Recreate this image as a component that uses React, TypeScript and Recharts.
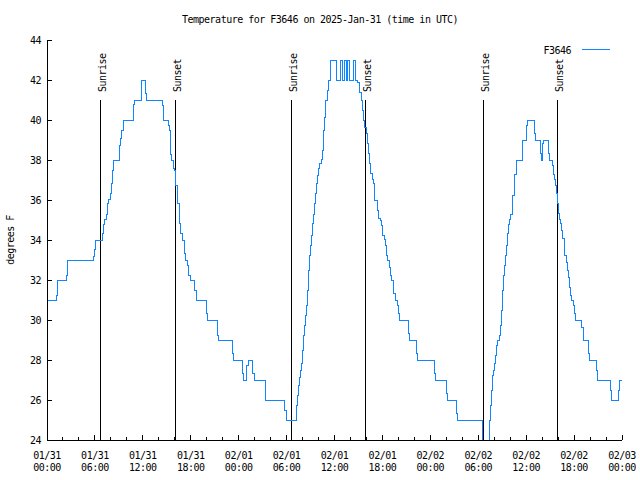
import React from "react";
import { LineChart, Line, XAxis, YAxis, ReferenceLine, Legend } from "recharts";

const FONT = "'DejaVu Sans Mono', 'Liberation Mono', monospace";
const TXT = { fontFamily: FONT, fontSize: 10, letterSpacing: -0.5, fill: "#000" };
const LINE_COLOR = "#0f86ff";

// hours since 01/31 00:00 UTC, and temperature (degrees F) from that moment on
const HOURS = [
  0, 1.16, 1.34, 2.42, 2.54, 5.85, 5.92, 6.1, 6.92, 7.05, 7.18, 7.43, 7.55, 7.68, 7.89, 8.05, 8.18, 8.3,
  9.05, 9.18, 9.35, 9.52, 10.81, 10.98, 11.86, 12.31, 12.43, 14.4, 14.53, 14.65, 15.19, 15.31, 15.44, 15.49,
  15.65, 15.82, 15.94, 16.15, 16.32, 16.53, 16.74, 16.99, 17.19, 17.37, 17.57, 17.74, 17.91, 18.44, 18.7,
  20.0, 20.12, 21.41, 21.5, 23.29, 23.38, 24.46, 24.58, 25.04, 25.21, 25.76, 25.92, 27.34, 27.42, 29.8, 29.93,
  31.18, 31.27, 31.39, 31.52, 31.64, 31.77, 31.89, 32.02, 32.14, 32.22, 32.34, 32.47, 32.6, 32.72, 32.85,
  32.97, 33.1, 33.22, 33.35, 33.47, 33.6, 33.77, 33.9, 34.02, 34.15, 34.31, 34.47, 34.6, 34.72, 34.85, 35.15,
  35.31, 35.44, 36.19, 36.69, 36.94, 37.19, 37.44, 37.69, 37.94, 38.32, 38.57, 38.94, 39.07, 39.19, 39.36,
  39.48, 39.61, 39.78, 39.95, 40.13, 40.28, 40.41, 40.53, 40.73, 40.91, 41.04, 41.41, 41.57, 41.79, 41.91,
  42.04, 42.2, 42.36, 42.49, 42.66, 42.83, 42.95, 43.11, 43.33, 43.45, 43.61, 43.86, 43.99, 44.12, 45.24,
  45.37, 46.29, 46.37, 48.5, 48.62, 50.0, 50.13, 51.25, 51.38, 54.47, 55.39, 55.51, 55.69, 55.81, 55.94,
  56.06, 56.19, 56.31, 56.44, 56.64, 56.76, 56.89, 57.01, 57.14, 57.26, 57.39, 57.51, 57.64, 57.76, 57.89,
  58.1, 58.23, 58.35, 58.48, 58.6, 58.73, 58.85, 59.48, 59.57, 59.98, 60.14, 61.02, 61.14, 61.77, 61.9,
  62.02, 62.15, 62.77, 62.9, 63.27, 63.4, 63.53, 63.65, 63.78, 63.9, 64.08, 64.2, 64.33, 64.45, 64.58,
  64.74, 64.86, 64.99, 65.15, 65.28, 65.4, 65.53, 65.65, 65.9, 66.03, 66.15, 66.99, 67.16, 67.83, 67.96,
  68.79, 68.91, 70.54, 70.66, 71.54, 71.72, 72,
];
const TEMPS = [
  31, 31.25, 32, 32.25, 33, 33.2, 33.55, 34, 34.35, 34.8, 35.05, 35.3, 35.85, 36.05, 36.35, 36.85, 37.5, 38,
  38.75, 39.1, 39.5, 40, 40.8, 41, 42, 41.35, 41, 40.75, 40.55, 40, 39.75, 39.5, 38.75, 38.3,
  38, 37.6, 37.5, 36.75, 35.85, 34.85, 34.35, 34, 33.35, 33, 32.75, 32.25, 32, 31.5, 31,
  30.35, 30, 29.25, 29, 28.35, 28, 27.35, 27, 27.75, 28, 27.35, 27, 26.35, 26, 25.5, 25,
  25.25, 25.75, 26.25, 26.75, 27.15, 27.5, 27.85, 28.5, 29.25, 29.75, 30.25, 30.75, 31.5, 32.5, 33.25,
  33.75, 34.25, 34.85, 35.3, 35.85, 36.35, 36.85, 37.25, 37.6, 37.85, 38.05, 38.5, 39.5, 40.15, 41, 41.5,
  42, 43, 42, 43, 42, 43, 42, 43, 42, 43, 42, 41.9, 41.65, 41.4, 41,
  40.5, 40, 39.65, 39.35, 38.85, 38.35, 37.85, 37.35, 37.05, 36.85, 36, 35.5, 35.1, 35, 34.75,
  34.25, 34.05, 33.75, 33.25, 33, 32.65, 32.25, 32, 31.85, 31.35, 31, 30.75, 30.35, 30, 29.35,
  29, 28.35, 28, 27.35, 27, 26.35, 26, 25.35, 25, 24, 25, 25.75, 26.5, 27.25, 27.5,
  27.85, 28.25, 28.75, 29, 29.25, 29.75, 30.5, 31.5, 32.25, 32.75, 33.25, 33.75, 34.35, 34.8, 35.05,
  35.3, 35.8, 36.25, 36.8, 37.3, 37.8, 38, 38.55, 39, 39.75, 40, 39.35, 39, 38.35, 38,
  38.85, 39, 38.35, 38, 37.75, 37.3, 37.05, 36.75, 36.35, 35.85, 35.35, 35.05, 34.85, 34.5, 34.1,
  33.65, 33.25, 32.9, 32.5, 32.15, 31.65, 31.25, 31, 30.75, 30.35, 30, 29.65, 29, 28.35, 28,
  27.5, 27, 26.5, 26, 26.5, 27, 27,
];

const SUN_EVENTS = ["Sunrise", "Sunset", "Sunrise", "Sunset", "Sunrise", "Sunset"];
const SUN_HOURS = [6.64, 16.03, 30.62, 39.88, 54.6, 63.9];
const SUN_LINE_TOP = 41;

const X_TICKS = [0, 2, 4, 6, 8, 10, 12, 14, 16, 18, 20, 22, 24, 26, 28, 30, 32, 34, 36, 38, 40, 42, 44, 46, 48, 50, 52, 54, 56, 58, 60, 62, 64, 66, 68, 70, 72];
const X_MAJOR = [0, 6, 12, 18, 24, 30, 36, 42, 48, 54, 60, 66, 72];
const X_DATES = ["01/31", "01/31", "01/31", "01/31", "02/01", "02/01", "02/01", "02/01", "02/02", "02/02", "02/02", "02/02", "02/03"];
const X_TIMES = ["00:00", "06:00", "12:00", "18:00", "00:00", "06:00", "12:00", "18:00", "00:00", "06:00", "12:00", "18:00", "00:00"];
const Y_TICKS = [24, 26, 28, 30, 32, 34, 36, 38, 40, 42, 44];

const data = HOURS.map((h, i) => ({ h, temp: TEMPS[i] }));

function BottomTick({ x, y, payload }: any) {
  const i = X_MAJOR.indexOf(payload.value);
  const len = i >= 0 ? 5 : 3;
  return (
    <g>
      <line x1={x} y1={y} x2={x} y2={y - len} stroke="#000" shapeRendering="crispEdges" />
      {i >= 0 && (
        <text x={x} y={y + 18.5} textAnchor="middle" style={TXT}>
          <tspan x={x}>{X_DATES[i]}</tspan>
          <tspan x={x} dy={12.5}>{X_TIMES[i]}</tspan>
        </text>
      )}
    </g>
  );
}

function TopTick({ x, y, payload }: any) {
  const len = X_MAJOR.includes(payload.value) ? 5 : 3;
  return <line x1={x} y1={y} x2={x} y2={y + len} stroke="#000" shapeRendering="crispEdges" />;
}

function LeftTick({ x, y, payload }: any) {
  return (
    <g>
      <line x1={x} y1={y} x2={x + 5} y2={y} stroke="#000" shapeRendering="crispEdges" />
      <text x={x - 6} y={y} dy="0.36em" textAnchor="end" style={TXT}>{payload.value}</text>
    </g>
  );
}

function RightTick({ x, y }: any) {
  return <line x1={x} y1={y} x2={x - 5} y2={y} stroke="#000" shapeRendering="crispEdges" />;
}

function SunLabel({ viewBox, text }: any) {
  const tx = viewBox.x + 5.5;
  const ty = viewBox.y - 8;
  return (
    <text x={tx} y={ty} transform={`rotate(-90, ${tx}, ${ty})`} textAnchor="start" style={TXT}>
      {text}
    </text>
  );
}

function YTitle({ viewBox }: any) {
  const tx = viewBox.x + 14;
  const ty = viewBox.y + viewBox.height / 2;
  return (
    <text x={tx} y={ty} transform={`rotate(-90, ${tx}, ${ty})`} textAnchor="middle" style={TXT}>
      degrees F
    </text>
  );
}

function LegendBox() {
  return (
    <svg width={90} height={18}>
      <text x={41} y={13.5} textAnchor="end" style={TXT}>F3646</text>
      <line x1={51.5} y1={9} x2={80} y2={9} stroke={LINE_COLOR} shapeRendering="crispEdges" />
    </svg>
  );
}

export default function App() {
  return (
    <div style={{ position: "absolute", left: 0, top: 0, width: 640, height: 480, background: "#fff" }}>
      <div
        style={{
          position: "absolute", left: 0, top: 13.5, width: 640, textAlign: "center",
          fontFamily: FONT, fontSize: 10, letterSpacing: -0.5, lineHeight: "12px", color: "#000",
        }}
      >
        Temperature for F3646 on 2025-Jan-31 (time in UTC)
      </div>
      <LineChart width={640} height={480} data={data} margin={{ top: 40, right: 18, bottom: 0, left: 0 }}>
        <XAxis
          dataKey="h" type="number" domain={[0, 72]} ticks={X_TICKS} interval={0}
          height={40} tickSize={0} tickMargin={0} tickLine={false}
          axisLine={{ stroke: "#000", shapeRendering: "crispEdges" }} tick={<BottomTick />}
        />
        <XAxis
          xAxisId="top" orientation="top" dataKey="h" type="number" domain={[0, 72]} allowDataOverflow
          ticks={X_TICKS} interval={0} height={0} tickSize={0} tickMargin={0} tickLine={false}
          axisLine={{ stroke: "#000", shapeRendering: "crispEdges" }} tick={<TopTick />}
        />
        <YAxis
          type="number" domain={[24, 44]} ticks={Y_TICKS} interval={0} width={47}
          tickSize={0} tickMargin={0} tickLine={false}
          axisLine={{ stroke: "#000", shapeRendering: "crispEdges" }} tick={<LeftTick />}
          label={(p: any) => <YTitle viewBox={p.viewBox} />}
        />
        <YAxis
          yAxisId="right" orientation="right" type="number" domain={[24, 44]} allowDataOverflow
          ticks={Y_TICKS} interval={0} width={0} tickSize={0} tickMargin={0} tickLine={false}
          axisLine={{ stroke: "#000", shapeRendering: "crispEdges" }} tick={<RightTick />}
        />
        {SUN_HOURS.map((h, i) => (
          <ReferenceLine
            key={`sun-${i}`}
            segment={[{ x: h, y: 24 }, { x: h, y: SUN_LINE_TOP }]}
            stroke="#000"
            strokeWidth={1}
            shapeRendering="crispEdges"
            label={(p: any) => <SunLabel viewBox={p.viewBox} text={SUN_EVENTS[i]} />}
          />
        ))}
        <Legend
          layout="vertical" align="center" verticalAlign="middle"
          wrapperStyle={{ left: 530, top: 40, width: 90, height: 18 }}
          content={() => <LegendBox />}
        />
        <Line
          type="stepAfter" dataKey="temp" name="F3646" stroke={LINE_COLOR} strokeWidth={1}
          dot={false} activeDot={false} isAnimationActive={false} shapeRendering="crispEdges"
        />
      </LineChart>
    </div>
  );
}
